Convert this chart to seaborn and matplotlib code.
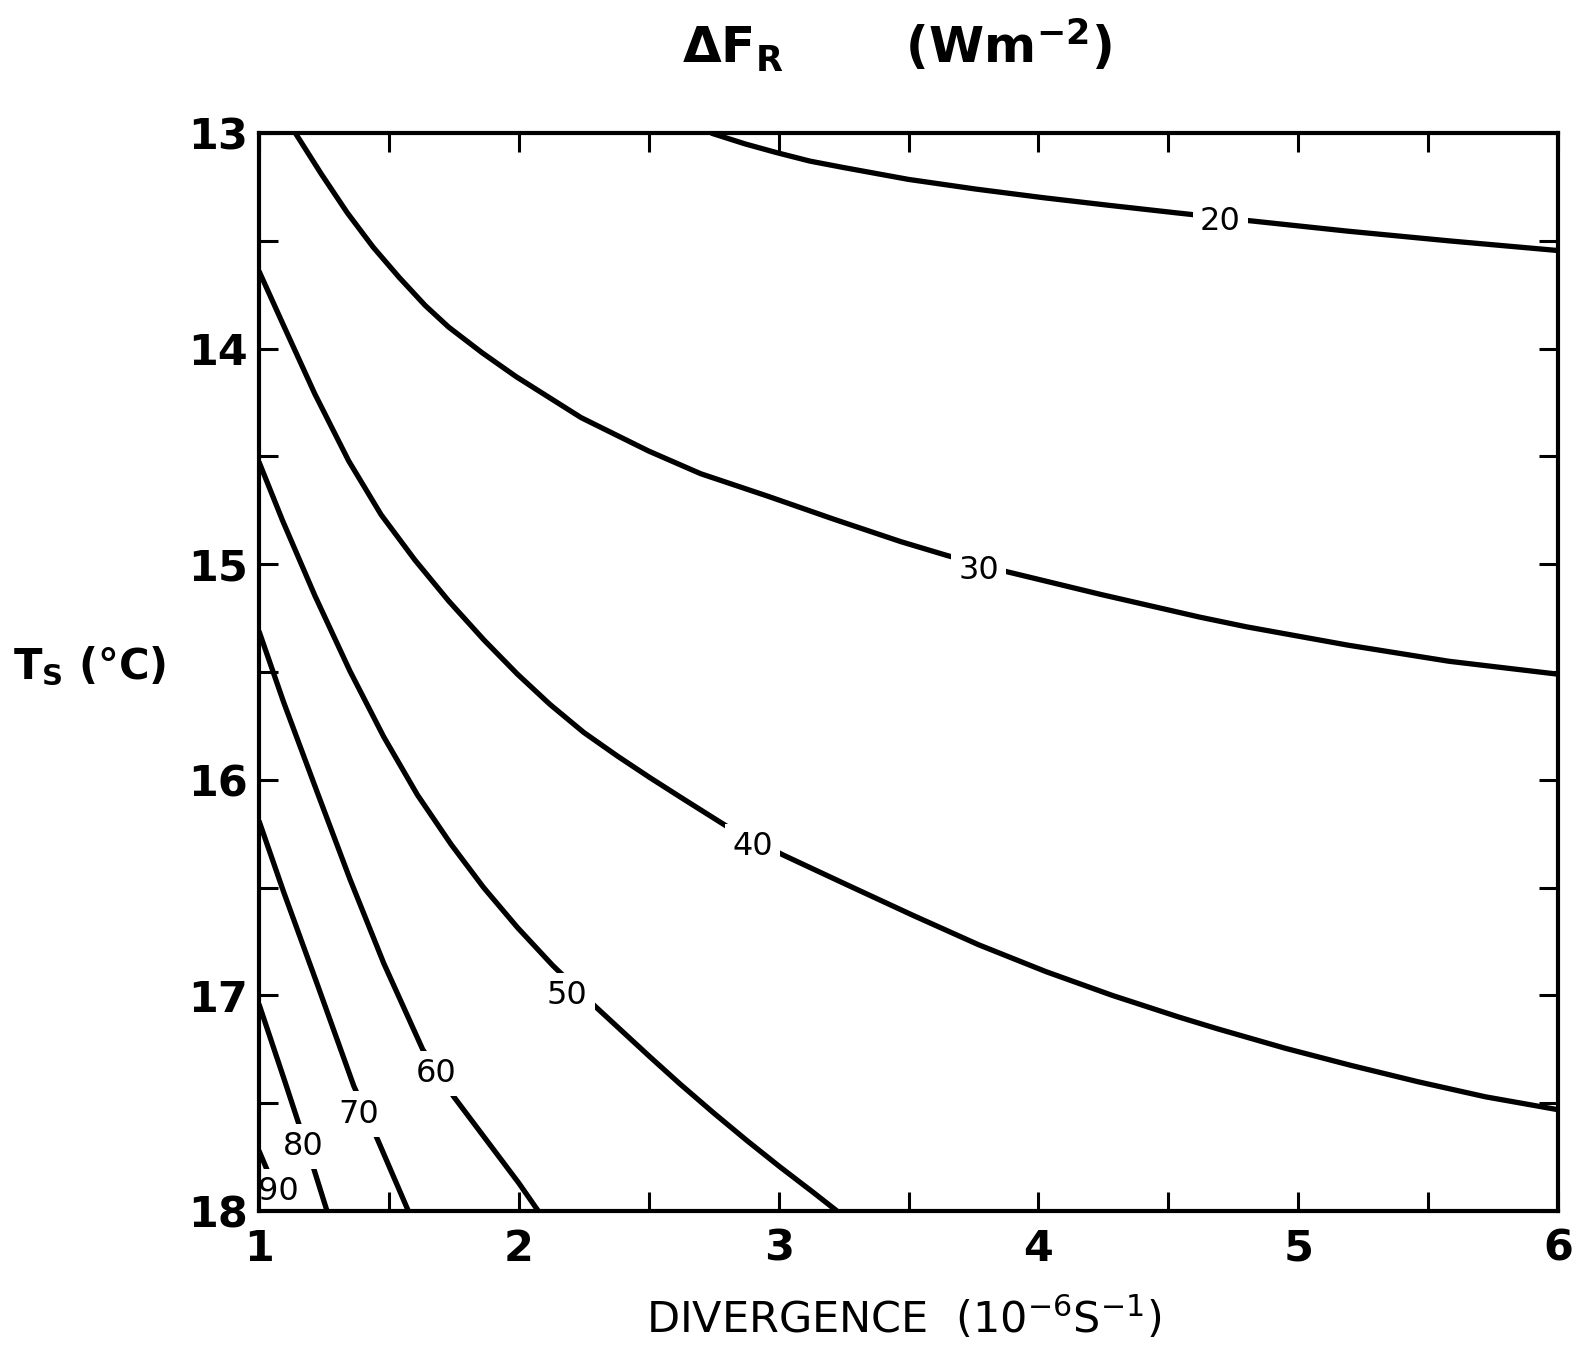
import matplotlib
matplotlib.use("Agg")
import matplotlib.pyplot as plt
import seaborn as sns
import pandas as pd
import numpy as np

# ---- data ----
levels = [20, 30, 40, 50, 60, 70, 80, 90]

x20 = [2.74, 2.87, 2.99, 3.12, 3.25, 3.50, 3.76, 4.02, 4.27, 4.53, 4.80, 5.19, 5.58, 6.0]
y20 = [13.0, 13.05, 13.09, 13.13, 13.16, 13.215, 13.26, 13.30, 13.335, 13.37, 13.405,
       13.455, 13.50, 13.545]

x30 = [1.14, 1.24, 1.34, 1.44, 1.54, 1.64, 1.73, 1.86, 1.99, 2.24, 2.50, 2.70, 2.96, 3.21,
       3.47, 3.65, 3.88, 4.24, 4.62, 4.80, 5.19, 5.58, 6.0]
y30 = [13.0, 13.19, 13.37, 13.53, 13.67, 13.80, 13.90, 14.02, 14.13, 14.32, 14.475, 14.58,
       14.685, 14.79, 14.895, 14.96, 15.035, 15.14, 15.245, 15.29, 15.375, 15.45, 15.51]

x40 = [1.0, 1.09, 1.215, 1.345, 1.47, 1.60, 1.73, 1.865, 1.995, 2.12, 2.25, 2.38, 2.505,
       2.635, 2.80, 3.02, 3.26, 3.52, 3.77, 4.03, 4.285, 4.54, 4.69, 4.95, 5.205, 5.46,
       5.72, 6.0]
y40 = [13.64, 13.88, 14.21, 14.52, 14.77, 14.98, 15.17, 15.35, 15.51, 15.65, 15.78,
       15.89, 15.99, 16.09, 16.215, 16.35, 16.485, 16.63, 16.765, 16.89, 17.0, 17.10,
       17.155, 17.245, 17.325, 17.40, 17.47, 17.53]

x50 = [1.0, 1.09, 1.215, 1.35, 1.48, 1.61, 1.74, 1.865, 1.995, 2.13, 2.28, 2.505, 2.62,
       2.75, 2.88, 3.005, 3.135, 3.225]
y50 = [14.525, 14.795, 15.145, 15.495, 15.80, 16.07, 16.30, 16.50, 16.685, 16.86, 17.035,
       17.285, 17.41, 17.545, 17.675, 17.795, 17.915, 18.0]

x60 = [1.0, 1.095, 1.225, 1.35, 1.48, 1.63, 1.75, 1.875, 2.0, 2.075]
y60 = [15.31, 15.64, 16.06, 16.46, 16.85, 17.25, 17.47, 17.67, 17.87, 18.0]

x70 = [1.0, 1.095, 1.225, 1.365, 1.45, 1.575]
y70 = [16.19, 16.52, 16.95, 17.42, 17.65, 18.0]

x80 = [1.0, 1.10, 1.16, 1.21, 1.262]
y80 = [17.04, 17.40, 17.62, 17.80, 18.0]

x90 = [1.0, 1.035, 1.08]
y90 = [17.72, 17.82, 18.0]

label_x = [4.70, 3.77, 2.90, 2.187, 1.682, 1.384, 1.17, 1.073]
label_y = [13.41, 15.03, 16.31, 17.0, 17.36, 17.55, 17.70, 17.91]

x_ticks = [1, 1.5, 2, 2.5, 3, 3.5, 4, 4.5, 5, 5.5, 6]
x_ticklabels = ["1", "", "2", "", "3", "", "4", "", "5", "", "6"]
y_ticks = [13, 13.5, 14, 14.5, 15, 15.5, 16, 16.5, 17, 17.5, 18]
y_ticklabels = ["13", "", "14", "", "15", "", "16", "", "17", "", "18"]

# ---- build long table ----
xs_all = [x20, x30, x40, x50, x60, x70, x80, x90]
ys_all = [y20, y30, y40, y50, y60, y70, y80, y90]
rows = []
for lev, xs, ys in zip(levels, xs_all, ys_all):
    for i, (a, b) in enumerate(zip(xs, ys)):
        rows.append({"level": lev, "order": i, "div": a, "ts": b})
df = pd.DataFrame(rows)

sns.set_style("ticks")
plt.rcParams["font.family"] = ["DejaVu Sans"]
plt.rcParams["mathtext.fontset"] = "dejavusans"
plt.rcParams["mathtext.default"] = "regular"
plt.rcParams["text.color"] = "black"
plt.rcParams["axes.labelcolor"] = "black"
plt.rcParams["xtick.color"] = "black"
plt.rcParams["ytick.color"] = "black"

fig = plt.figure(figsize=(15.8, 13.48), dpi=100)
ax = fig.add_axes([0.1639, 0.1016, 0.8222, 0.7997])

sns.lineplot(data=df, x="div", y="ts", units="level", estimator=None, sort=False,
             color="black", linewidth=3.8, ax=ax, legend=False)
for ln in ax.get_lines():
    ln.set_solid_capstyle("butt")
    ln.set_solid_joinstyle("round")

for lev, lx, ly in zip(levels, label_x, label_y):
    ax.text(lx, ly, str(lev), fontsize=23, ha="center", va="center", zorder=2.3,
            color="black", bbox=dict(facecolor="white", edgecolor="none", pad=5))

ax.set_xlim(1, 6)
ax.set_ylim(18, 13)
ax.set_xticks(x_ticks)
ax.set_xticklabels(x_ticklabels, fontweight="bold")
ax.set_yticks(y_ticks)
ax.set_yticklabels(y_ticklabels, fontweight="bold")
ax.tick_params(direction="in", length=14, width=2.2, top=True, right=True,
               labelsize=31, colors="black")
ax.tick_params(axis="x", pad=12)
ax.tick_params(axis="y", pad=8)
for s in ax.spines.values():
    s.set_linewidth(3.0)
    s.set_color("black")
ax.set_xlabel("")
ax.set_ylabel("")

fig.text(0.5676, 0.966, r"$\mathbf{\Delta F_R}$       (Wm$^{\mathbf{-2}}$)", fontsize=36,
         fontweight="bold", ha="center", va="center")
fig.text(0.0568, 0.5052, r"$\mathbf{T_S}$ (°C)", fontsize=30, fontweight="bold",
         ha="center", va="center")
fig.text(0.5717, 0.022, r"DIVERGENCE  (10$^{-6}$S$^{-1}$)", fontsize=31,
         ha="center", va="center")

fig.savefig("out.png", dpi=100, facecolor="white")
